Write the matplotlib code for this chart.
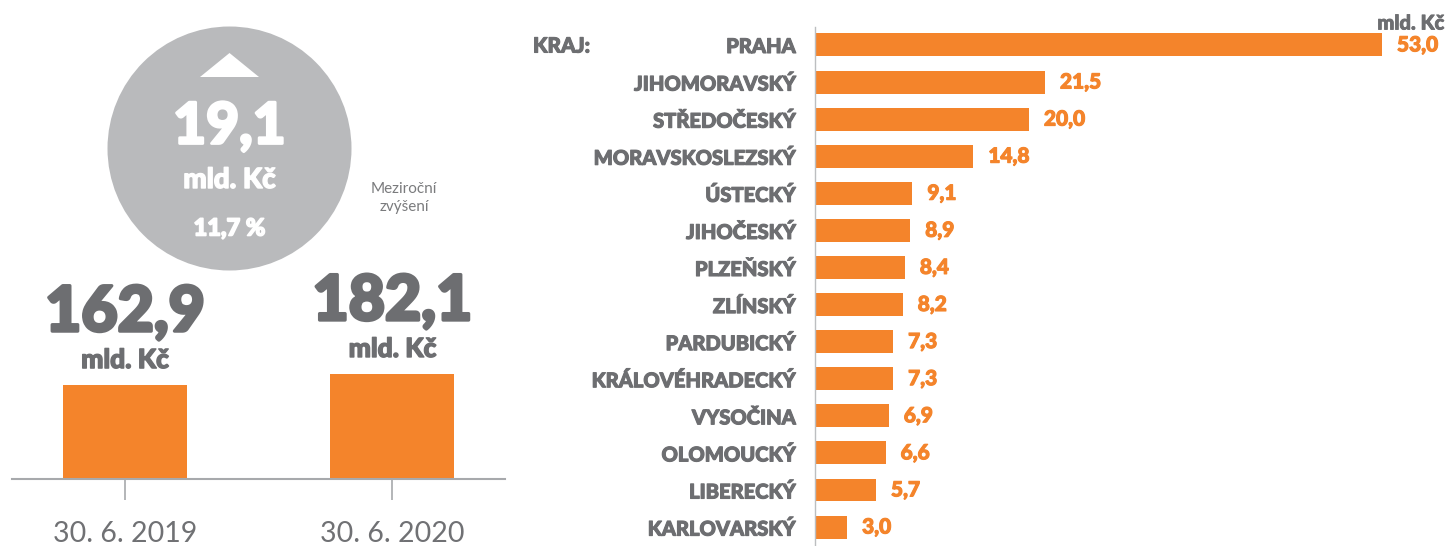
import matplotlib.pyplot as plt
import matplotlib.patheffects as pe
from matplotlib.patches import Circle, Polygon

# levá část – celkový objem
dates = ["30. 6. 2019", "30. 6. 2020"]
totals = [162.9, 182.1]
change_abs = "19,1"
change_pct = "11,7 %"

# pravá část – kraje
regions = ["PRAHA", "JIHOMORAVSKÝ", "STŘEDOČESKÝ", "MORAVSKOSLEZSKÝ", "ÚSTECKÝ",
           "JIHOČESKÝ", "PLZEŇSKÝ", "ZLÍNSKÝ", "PARDUBICKÝ", "KRÁLOVÉHRADECKÝ",
           "VYSOČINA", "OLOMOUCKÝ", "LIBERECKÝ", "KARLOVARSKÝ"]
values = [53.0, 21.5, 20.0, 14.8, 9.1, 8.9, 8.4, 8.2, 7.3, 7.3, 6.9, 6.6, 5.7, 3.0]

ORANGE = "#f4842b"
GRAY = "#6d6e71"
LIGHT = "#b9babc"
FONT = "Lato"

W, H = 1447, 546
fig = plt.figure(figsize=(W / 100, H / 100), dpi=100)


def fax(x0, y0, x1, y1):
    # axes in pixel coordinates (top-left origin)
    a = fig.add_axes([x0 / W, 1 - y1 / H, (x1 - x0) / W, (y1 - y0) / H])
    a.patch.set_alpha(0)
    return a


def fmt(v):
    return f"{v:.1f}".replace(".", ",")


def thick(color, w=1.2):
    return [pe.withStroke(linewidth=w, foreground=color)]


# --- overlay for circle and free texts
ov = fax(0, 0, W, H)
ov.set_xlim(0, W)
ov.set_ylim(H, 0)
ov.axis("off")
ov.add_patch(Circle((229.5, 148.5), 122, color=LIGHT, lw=0))
ov.add_patch(Polygon([(200, 77), (259, 77), (229.5, 53)], color="white", lw=0))
ov.text(229.5, 127, change_abs, color="white", fontsize=41, fontweight="black",
        family=FONT, ha="center", va="center", path_effects=thick("white", 2))
ov.text(229.5, 180, "mld. Kč", color="white", fontsize=20, fontweight="black",
        family=FONT, ha="center", va="center", path_effects=thick("white", 1))
ov.text(229.5, 228, change_pct, color="white", fontsize=17, fontweight="black",
        family=FONT, ha="center", va="center", path_effects=thick("white", 1.2))
ov.text(404, 198, "Meziroční\nzvýšení", color="#7a7b7d", fontsize=11,
        family=FONT, ha="center", va="center", linespacing=1.3)
ov.text(533, 46, "KRAJ:", color=GRAY, fontsize=15, fontweight="black",
        family=FONT, ha="left", va="center", path_effects=thick(GRAY, 0.8))
ov.text(1444, 23, "mld. Kč", color=GRAY, fontsize=14.5, fontweight="black",
        family=FONT, ha="right", va="center", path_effects=thick(GRAY, 0.6))

# --- left bars
ax1 = fax(12, 0, 505, 479)
ax1.bar(range(len(totals)), totals, width=0.4636, color=ORANGE)
ax1.set_xlim(-0.4224, 1.4206)
ax1.set_ylim(0, 182.1 * 479 / 105)
for s in ["top", "right", "left"]:
    ax1.spines[s].set_visible(False)
ax1.spines["bottom"].set_color("#a7a9ac")
ax1.spines["bottom"].set_linewidth(1.5)
ax1.set_yticks([])
ax1.set_xticks(range(len(dates)))
ax1.set_xticklabels(dates, fontsize=20.5, color="#707174", family=FONT)
ax1.tick_params(axis="x", length=15, width=1.2, color="#a7a9ac", pad=15)
for i, v in enumerate(totals):
    ax1.annotate(fmt(v), (i, v), xytext=(0, 72), textcoords="offset pixels",
                 ha="center", va="center", fontsize=45, fontweight="black",
                 family=FONT, color=GRAY, path_effects=thick(GRAY, 2.4))
    ax1.annotate("mld. Kč", (i, v), xytext=(0, 25), textcoords="offset pixels",
                 ha="center", va="center", fontsize=19, fontweight="black",
                 family=FONT, color=GRAY, path_effects=thick(GRAY, 1))

# --- right bars
ax2 = fax(815, 27, W, H)
ypos = range(len(regions))
ax2.barh(ypos, values, height=0.62, color=ORANGE)
ax2.set_xlim(0, (W - 815) / 10.698)
ax2.set_ylim(13.51, -0.485)
for s in ["top", "right", "bottom"]:
    ax2.spines[s].set_visible(False)
ax2.spines["left"].set_color("#bcbec0")
ax2.spines["left"].set_linewidth(1)
ax2.set_xticks([])
ax2.set_yticks(list(ypos))
ax2.set_yticklabels(regions, fontsize=14.5, fontweight="black", family=FONT, color=GRAY,
                    path_effects=thick(GRAY, 0.8))
ax2.tick_params(axis="y", length=0, pad=14)
for i, v in enumerate(values):
    ax2.annotate(fmt(v), (v, i), xytext=(15, 0), textcoords="offset pixels",
                 ha="left", va="center", fontsize=15, fontweight="black",
                 family=FONT, color=ORANGE, path_effects=thick(ORANGE, 0.8))

fig.savefig("out.png", dpi=100)
